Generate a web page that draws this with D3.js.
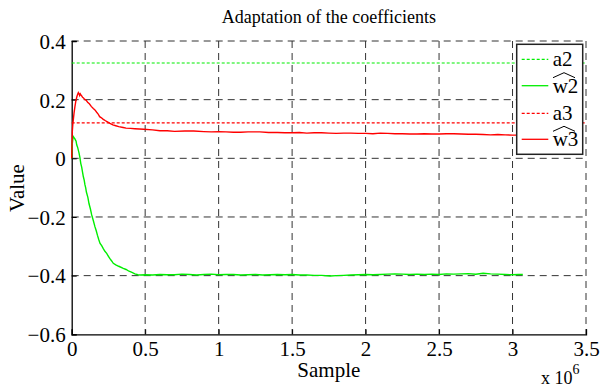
<!DOCTYPE html>
<html><head><meta charset="utf-8">
<script src="https://cdn.jsdelivr.net/npm/d3@7"></script>
<style>body{margin:0;background:#fff}svg{display:block}svg text{font-family:"Liberation Serif",serif !important}</style>
</head><body><svg id="c" width="600" height="388"></svg>
<script>
// ---- data (x in samples ×10^6) ----
const xTicks = [0, 0.5, 1, 1.5, 2, 2.5, 3, 3.5];
const yTicks = [0.4, 0.2, 0, -0.2, -0.4, -0.6];
const a2 = 0.325;
const a3 = 0.121;
const w2x = [0,0.004,0.008,0.011,0.015,0.02,0.025,0.03,0.034,0.04,0.045,0.05,0.056,0.062,0.068,0.074,0.079,0.085,0.09,0.095,0.1,0.11,0.118,0.127,0.136,0.147,0.158,0.167,0.175,0.184,0.193,0.204,0.215,0.226,0.238,0.25,0.26,0.272,0.283,0.3,0.32,0.351,0.37,0.39,0.41,0.43,0.45,0.47,0.5,0.55,0.6,0.65,0.7,0.75,0.8,0.85,0.9,0.95,1.0,1.05,1.1,1.15,1.2,1.25,1.3,1.35,1.4,1.45,1.5,1.55,1.6,1.65,1.7,1.76,1.8,1.85,1.9,1.95,2.0,2.05,2.1,2.15,2.2,2.25,2.3,2.35,2.4,2.45,2.5,2.55,2.6,2.65,2.7,2.75,2.8,2.85,2.9,2.95,3.0,3.04,3.07];
const w2y = [0,0.05,0.068,0.074,0.071,0.068,0.063,0.058,0.046,0.038,0.028,0.018,0.002,-0.018,-0.03,-0.048,-0.062,-0.074,-0.09,-0.1,-0.115,-0.133,-0.155,-0.172,-0.193,-0.212,-0.233,-0.247,-0.262,-0.277,-0.29,-0.298,-0.308,-0.317,-0.324,-0.334,-0.342,-0.35,-0.358,-0.363,-0.368,-0.375,-0.379,-0.385,-0.389,-0.394,-0.397,-0.398,-0.397,-0.398,-0.396,-0.397,-0.397,-0.395,-0.396,-0.398,-0.396,-0.395,-0.397,-0.396,-0.396,-0.398,-0.397,-0.396,-0.398,-0.397,-0.396,-0.397,-0.396,-0.398,-0.398,-0.399,-0.399,-0.401,-0.4,-0.399,-0.398,-0.397,-0.396,-0.397,-0.396,-0.395,-0.394,-0.395,-0.396,-0.395,-0.396,-0.395,-0.396,-0.394,-0.395,-0.394,-0.393,-0.395,-0.392,-0.394,-0.395,-0.396,-0.397,-0.396,-0.396];
const w3x = [0,0.004,0.008,0.011,0.016,0.022,0.028,0.035,0.04,0.045,0.05,0.054,0.058,0.063,0.068,0.074,0.08,0.088,0.1,0.11,0.12,0.133,0.147,0.158,0.17,0.18,0.19,0.2,0.215,0.23,0.24,0.26,0.28,0.3,0.32,0.35,0.37,0.4,0.43,0.46,0.49,0.55,0.6,0.65,0.7,0.77,0.83,0.9,0.95,1.0,1.05,1.1,1.15,1.2,1.28,1.34,1.4,1.45,1.5,1.55,1.6,1.65,1.7,1.75,1.8,1.85,1.9,1.95,2.0,2.05,2.1,2.15,2.2,2.25,2.3,2.35,2.4,2.45,2.5,2.55,2.6,2.65,2.7,2.75,2.8,2.85,2.9,2.95,3.0,3.04,3.07];
const w3y = [0,0.09,0.118,0.131,0.155,0.176,0.195,0.21,0.218,0.224,0.219,0.214,0.22,0.216,0.213,0.208,0.206,0.201,0.197,0.19,0.186,0.177,0.17,0.165,0.157,0.151,0.142,0.139,0.133,0.128,0.125,0.119,0.114,0.111,0.108,0.105,0.103,0.102,0.101,0.1,0.099,0.097,0.094,0.094,0.092,0.093,0.093,0.091,0.09,0.091,0.09,0.089,0.089,0.09,0.09,0.088,0.088,0.087,0.087,0.088,0.086,0.087,0.087,0.086,0.085,0.086,0.086,0.085,0.085,0.084,0.086,0.085,0.084,0.084,0.083,0.083,0.084,0.083,0.083,0.084,0.084,0.083,0.082,0.082,0.081,0.08,0.081,0.08,0.079,0.079,0.078];
const legendLabels = ["a2", "w2", "a3", "w3"];

// ---- layout ----
const svg = d3.select("#c");
const L = 71.7, R = 586, T = 41, B = 334.3;
const x = d3.scaleLinear().domain([0, 3.5]).range([L, R]);
const y = d3.scaleLinear().domain([-0.6, 0.4]).range([B, T]);
const green = "#00ee00", red = "#ff0000";

// grid
const g = svg.append("g");
g.selectAll(".vg").data(xTicks.slice(1)).join("line")
  .attr("x1", d => x(d)).attr("x2", d => x(d)).attr("y1", T).attr("y2", B)
  .attr("stroke", "#333").attr("stroke-width", 1).attr("stroke-dasharray", "7,5");
g.selectAll(".hg").data(yTicks.slice(0, -1)).join("line")
  .attr("x1", L).attr("x2", R).attr("y1", d => y(d)).attr("y2", d => y(d))
  .attr("stroke", "#333").attr("stroke-width", 1).attr("stroke-dasharray", "7,5");

// axes
const xAxis = d3.axisBottom(x).tickValues(xTicks).tickSize(-5).tickPadding(9).tickFormat(d => d3.format("")(d));
const yAxis = d3.axisLeft(y).tickValues(yTicks).tickSize(-5).tickPadding(6).tickFormat(d => d === 0 ? "0" : d3.format(".1f")(d));
const gx = svg.append("g").attr("transform", `translate(0,${B})`).call(xAxis);
const gy = svg.append("g").attr("transform", `translate(${L},0)`).call(yAxis);
[gx, gy].forEach(a => {
  a.attr("font-family", "Liberation Serif").attr("font-size", 21);
  a.select(".domain").attr("stroke", "#000").attr("stroke-width", 1.3);
  a.selectAll(".tick line").attr("stroke", "#000");
  a.selectAll("text").attr("fill", "#000");
});
gx.selectAll("text").attr("dy", "0.6em");
gy.selectAll("text").attr("dy", "0.35em");

// series
const line = d3.line().x(d => x(d[0])).y(d => y(d[1]));
svg.append("line").attr("x1", L).attr("x2", R).attr("y1", y(a2)).attr("y2", y(a2))
  .attr("stroke", green).attr("stroke-width", 1.2).attr("stroke-dasharray", "3,2");
svg.append("line").attr("x1", L).attr("x2", R).attr("y1", y(a3)).attr("y2", y(a3))
  .attr("stroke", red).attr("stroke-width", 1.2).attr("stroke-dasharray", "3,2");
svg.append("path").datum(d3.zip(w2x, w2y)).attr("d", line)
  .attr("fill", "none").attr("stroke", green).attr("stroke-width", 1.4);
svg.append("path").datum(d3.zip(w3x, w3y)).attr("d", line)
  .attr("fill", "none").attr("stroke", red).attr("stroke-width", 1.4);

// titles
svg.append("text").attr("x", (L + R) / 2).attr("y", 23).attr("text-anchor", "middle")
  .attr("font-family", "Liberation Serif").attr("font-size", 18).text("Adaptation of the coefficients");
svg.append("text").attr("x", (L + R) / 2).attr("y", 377).attr("text-anchor", "middle")
  .attr("font-family", "Liberation Serif").attr("font-size", 21).text("Sample");
svg.append("text").attr("transform", "translate(24,188) rotate(-90)").attr("text-anchor", "middle")
  .attr("font-family", "Liberation Serif").attr("font-size", 21).text("Value");
const ex = svg.append("text").attr("x", 541).attr("y", 384).attr("font-family", "Liberation Serif").attr("font-size", 18);
ex.append("tspan").text("x 10");
ex.append("tspan").attr("dy", -10).attr("font-size", 14).text("6");

// legend
const lg = svg.append("g");
lg.append("rect").attr("x", 516.7).attr("y", 44.3).attr("width", 66).attr("height", 110)
  .attr("fill", "#fff").attr("stroke", "#222").attr("stroke-width", 1.5);
const ly = [59.3, 85.7, 113.3, 139.3];
const lc = [green, green, red, red];
const ld = ["3,2", null, "3,2", null];
legendLabels.forEach((t, i) => {
  lg.append("line").attr("x1", 521.7).attr("x2", 548.3).attr("y1", ly[i]).attr("y2", ly[i])
    .attr("stroke", lc[i]).attr("stroke-width", 1.3).attr("stroke-dasharray", ld[i]);
  lg.append("text").attr("x", 552.7).attr("y", ly[i] + 7).attr("font-family", "Liberation Serif")
    .attr("font-size", 21).text(t);
  if (t.startsWith("w")) {
    lg.append("path").attr("d", `M553,${ly[i] - 8} L564,${ly[i] - 13} L575,${ly[i] - 8}`)
      .attr("fill", "none").attr("stroke", "#000").attr("stroke-width", 1);
  }
});
</script></body></html>
